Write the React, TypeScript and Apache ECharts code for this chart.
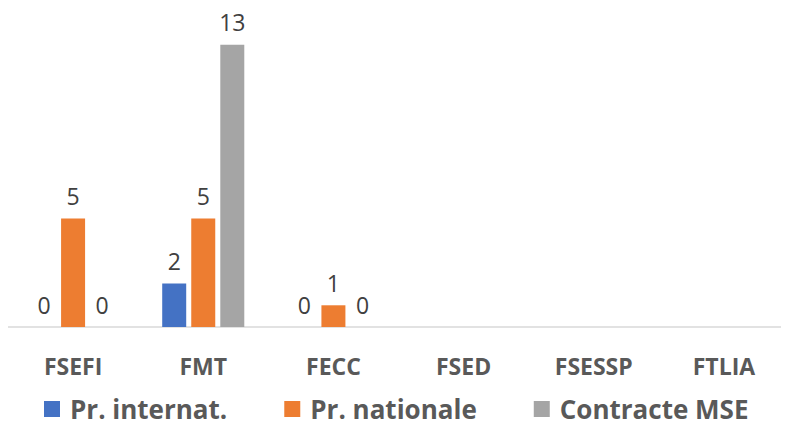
import React, { useEffect, useRef } from "react";
import * as echarts from "echarts";

const categories = ["FSEFI", "FMT", "FECC", "FSED", "FSESSP", "FTLIA"];
const seriesNames = ["Pr. internat.", "Pr. nationale", "Contracte MSE"];
const prInternat = [0, 2, 0, null, null, null];
const prNationale = [5, 5, 1, null, null, null];
const contracteMSE = [0, 13, 0, null, null, null];
const colors = ["#4472C4", "#ED7D31", "#A5A5A5"];

export default function App() {
  const ref = useRef<HTMLDivElement>(null);
  useEffect(() => {
    if (!ref.current) return;
    const chart = echarts.init(ref.current, null, { renderer: "svg" });
    const font = "'Open Sans', 'Noto Sans', sans-serif";
    const dataSets = [prInternat, prNationale, contracteMSE];
    chart.setOption({
      animation: false,
      textStyle: { fontFamily: font },
      grid: { left: 8, top: 23, width: 795, bottom: 99, containLabel: false },
      legend: {
        top: 391,
        left: 39,
        itemWidth: 16,
        itemHeight: 16,
        itemGap: 57,
        icon: "rect",
        textStyle: {
          fontFamily: font,
          fontSize: 26,
          fontWeight: "bold",
          color: "#595959",
          padding: [0, 0, 0, 5],
        },
        data: seriesNames,
      },
      xAxis: {
        type: "category",
        data: categories,
        axisLine: { lineStyle: { color: "#D9D9D9", width: 1.5 } },
        axisTick: { show: false },
        axisLabel: { margin: 27, fontFamily: font, fontSize: 23, fontWeight: "bold", color: "#595959" },
      },
      yAxis: { type: "value", min: 0, max: 14, show: false, splitLine: { show: false } },
      series: dataSets.map((d, i) => ({
        name: seriesNames[i],
        type: "bar",
        data: d,
        barWidth: 24,
        barGap: "21%",
        itemStyle: { color: colors[i] },
        label: {
          show: true,
          position: "top",
          distance: 11,
          fontFamily: font,
          fontSize: 23,
          color: "#404040",
        },
      })),
    });
    return () => chart.dispose();
  }, []);
  return <div ref={ref} style={{ width: 789, height: 426, marginLeft: -8, marginTop: -8 }} />;
}
